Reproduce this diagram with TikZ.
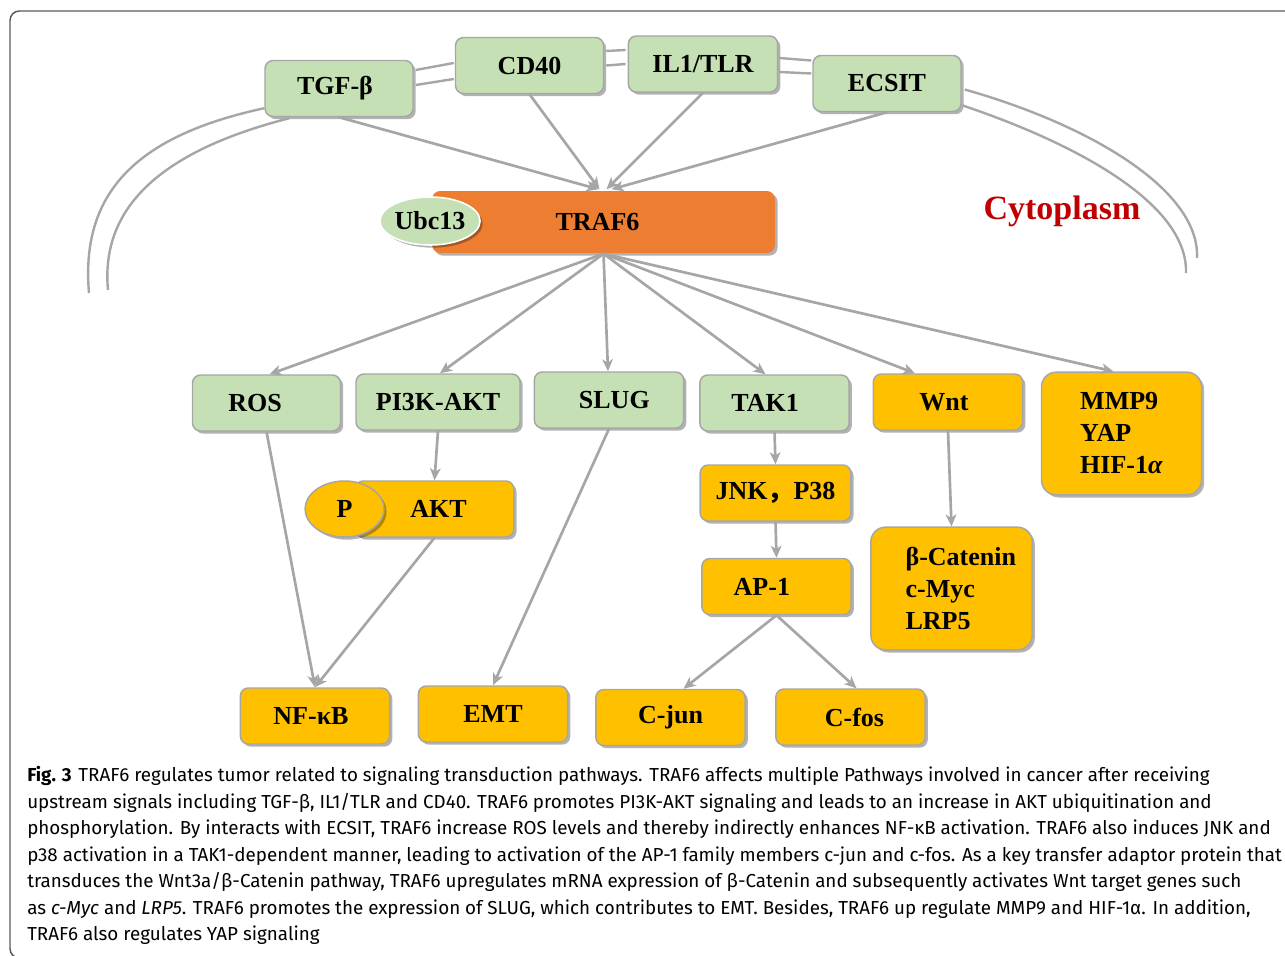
\documentclass[tikz,border=0pt]{standalone}
\usepackage{fontspec}
\setmainfont{Liberation Serif}
\newfontfamily\capfont{Fira Sans}
\newfontfamily\cjk{Noto Sans CJK SC}
\usepackage{tikz}
\usetikzlibrary{shapes.geometric, arrows.meta, shadows, calc}
\definecolor{LeafGreen}{RGB}{197,224,180}
\definecolor{GoldFill}{RGB}{255,192,0}
\definecolor{TrafOrange}{RGB}{237,125,49}
\definecolor{EdgeGray}{RGB}{166,166,166}
\definecolor{FrameGray}{RGB}{90,90,90}
\definecolor{CytoRed}{RGB}{192,0,0}
\newcommand{\labfont}{\fontsize{19.5}{24}\selectfont\bfseries}
\newcommand{\padr}[1]{\hspace{#1}\hbox{}}

\begin{document}
\begin{tikzpicture}[x=0.75pt, y=-0.75pt,
    box/.style={rounded corners=6pt, draw=EdgeGray, line width=1.1pt, minimum width=111pt, minimum height=42pt, font=\labfont, drop shadow={shadow xshift=2pt, shadow yshift=-2pt, opacity=0.3, fill=black}},
    greenbox/.style={box, fill=LeafGreen},
    goldbox/.style={box, fill=GoldFill},
    bigbox/.style={goldbox, rounded corners=11pt, minimum width=120pt, minimum height=92pt, align=left},
    link/.style={EdgeGray, line width=2pt, -{Stealth[length=9pt, width=8pt, inset=2.5pt]}},
    memb/.style={EdgeGray, line width=1.8pt}]
    \useasboundingbox (0,0) rectangle (1285,956);
    \clip (0,0) rectangle (1285,956);

    % Frame
    \draw[FrameGray, line width=1.1pt, rounded corners=7pt] (10,11) rectangle (1300,958);

    % Receptors
    \node[greenbox] (tgf) at (339,88.5) {TGF-β\padr{6pt}};
    \node[greenbox] (cd40) at (529.5,65.5) {CD40};
    \node[greenbox, minimum width=112pt] (il1) at (703,64) {IL1/TLR};
    \node[greenbox] (ecsit) at (887,83.5) {ECSIT};

    % Membrane
    \draw[memb] ($(tgf.east)+(2,-18.5)$) -- ($(cd40.west)+(-1,-2.5)$);
    \draw[memb] ($(tgf.east)+(2,-3.5)$) -- ($(cd40.west)+(-1,13.5)$);
    \draw[memb] ($(cd40.east)+(2,-14.5)$) -- ($(il1.west)+(-2,-14)$);
    \draw[memb] ($(cd40.east)+(2,0)$) -- ($(il1.west)+(-2,0)$);
    \draw[memb] ($(il1.east)+(1,-6)$) -- ($(ecsit.west)+(-1,-23)$);
    \draw[memb] ($(il1.east)+(1,8)$) -- ($(ecsit.west)+(-1,-10)$);
    \draw[memb] ($(tgf.south west)+(0,-9)$) .. controls (140,135) and (80,190) .. (89,293);
    \draw[memb] ($(tgf.south west)+(25,1)$) .. controls (165,150) and (100,205) .. (108,290);
    \draw[memb] ($(ecsit.east)+(3,6)$) .. controls (1090,125) and (1200,190) .. (1197,258);
    \draw[memb] ($(ecsit.east)+(1,22)$) .. controls (1080,145) and (1188,205) .. (1186,273);

    % TRAF6
    \node[box, draw=none, fill=TrafOrange, minimum width=257pt, minimum height=46.5pt] (traf6) at (603.5,222) {TRAF6\padr{9pt}};
    \node[ellipse, draw=white, line width=1.2pt, fill=LeafGreen, minimum width=71pt, minimum height=36pt, inner sep=0pt, font=\labfont,
      drop shadow={shadow xshift=2pt, shadow yshift=-2pt, opacity=0.3, fill=black}] (ubc13) at (430,221) {Ubc13};
    \node[font=\fontsize{25.5}{30}\selectfont\bfseries, text=CytoRed] (cyto) at (1062,211) {Cytoplasm};

    % Downstream
    \node[greenbox] (ros) at (266.5,403) {ROS\padr{17pt}};
    \node[greenbox, minimum width=123pt] (pi3k) at (438,402) {PI3K-AKT};
    \node[greenbox, minimum width=112pt] (slug) at (609,400) {\hspace{8pt}SLUG};
    \node[greenbox, minimum width=112pt] (tak1) at (774.5,403) {TAK1\padr{14pt}};
    \node[goldbox, minimum width=112pt] (wnt) at (948,402) {Wnt\padr{6pt}};
    \node[bigbox] (mmp9) at (1121.5,433.5) {MMP9\\YAP\\HIF-1\textit{α}};

    \node[goldbox, minimum width=119pt] (akt) at (434.5,509) {\hspace{6pt}AKT};
    \node[ellipse, draw=EdgeGray, line width=1.1pt, fill=GoldFill, minimum width=59pt, minimum height=42pt, inner sep=0pt, font=\labfont,
      drop shadow={shadow xshift=2pt, shadow yshift=-2pt, opacity=0.3, fill=black}] (pakt) at (344.5,509) {P};
    \node[goldbox, minimum width=113pt] (jnk) at (775.5,493) {JNK{\cjk ，}P38};
    \node[goldbox, minimum width=112pt] (ap1) at (776.5,586.5) {AP-1\padr{22pt}};
    \node[bigbox, minimum width=121pt] (bcat) at (951.5,588.5) {\hspace*{14pt}β-Catenin\\\hspace*{14pt}c-Myc\\\hspace*{14pt}LRP5};

    \node[goldbox, minimum width=112pt] (nfkb) at (315,716) {NF-κB\padr{6pt}};
    \node[goldbox, minimum width=112pt] (emt) at (493,714) {EMT};
    \node[goldbox, minimum width=112pt] (cjun) at (670.5,717.5) {C-jun};
    \node[goldbox, minimum width=112pt] (cfos) at (850.5,717) {\hspace{6pt}C-fos};

    % Arrows
    \foreach \s/\dx in {tgf/-5, cd40/-4, il1/3, ecsit/8}
      \draw[link] (\s.south) -- ($(traf6.north)+(\dx,-1)$);
    \foreach \t/\dx in {ros/3, pi3k/2, slug/-1, tak1/-9, wnt/-33, mmp9/-8}
      \draw[link] (traf6.south) -- ($(\t.north)+(\dx,0)$);
    \draw[link] (ros.south) -- (nfkb.north);
    \draw[link] (akt.south) -- (nfkb.north);
    \draw[link] (pi3k.south) -- (akt.north);
    \draw[link] (slug.south) -- (emt.north);
    \draw[link] (tak1.south) -- (jnk.north);
    \draw[link] (jnk.south) -- (ap1.north);
    \draw[link] (ap1.south) -- ($(cjun.north)+(13,0)$);
    \draw[link] (ap1.south) -- ($(cfos.north)+(6,0)$);
    \draw[link] (wnt.south) -- (bcat.north);

    % Caption
    \node[anchor=north west, align=left, inner sep=0pt, font=\capfont\fontsize{14.1}{19.9}\selectfont] (caption) at (27,766)
      {\textbf{Fig. 3}\hspace{5pt}TRAF6 regulates tumor related to signaling transduction pathways. TRAF6 affects multiple Pathways involved in cancer after receiving\\
       upstream signals including TGF-β, IL1/TLR and CD40. TRAF6 promotes PI3K-AKT signaling and leads to an increase in AKT ubiquitination and\\
       phosphorylation. By interacts with ECSIT, TRAF6 increase ROS levels and thereby indirectly enhances NF-κB activation. TRAF6 also induces JNK and\\
       p38 activation in a TAK1-dependent manner, leading to activation of the AP-1 family members c-jun and c-fos. As a key transfer adaptor protein that\\
       transduces the Wnt3a/β-Catenin pathway, TRAF6 upregulates mRNA expression of β-Catenin and subsequently activates Wnt target genes such\\
       as \textit{c-Myc} and \textit{LRP5}. TRAF6 promotes the expression of SLUG, which contributes to EMT. Besides, TRAF6 up regulate MMP9 and HIF-1α. In addition,\\
       TRAF6 also regulates YAP signaling};
\end{tikzpicture}
\end{document}
